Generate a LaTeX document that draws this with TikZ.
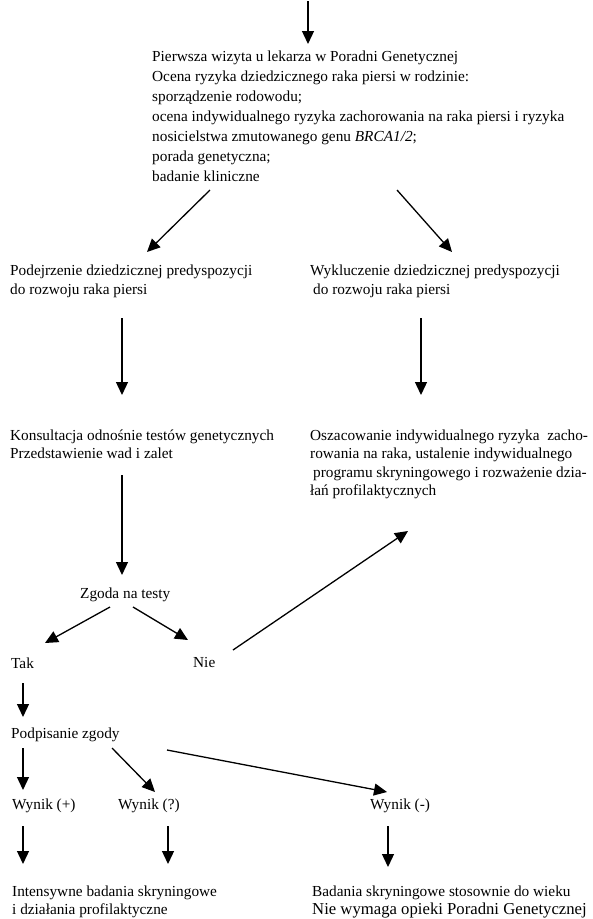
\documentclass[tikz,border=0pt]{standalone}
\usepackage{fontspec}
\setmainfont{Liberation Serif}
\usetikzlibrary{arrows.meta}

\begin{document}
\begin{tikzpicture}
  [x=1pt,y=-1pt,
   every node/.style={anchor=north west,inner sep=0pt,align=left,font=\fontsize{15.3}{18.5}\selectfont},
   arr/.style={line width=1.3pt,-{Triangle[length=13pt,width=12pt]}}]
  \useasboundingbox (0,0) rectangle (593,919);

  \coordinate (entry) at (308,1);
  \node[font=\fontsize{15.3}{20}\selectfont] (wizyta) at (152,50.5) {Pierwsza wizyta u lekarza w Poradni Genetycznej\\
    Ocena ryzyka dziedzicznego raka piersi w rodzinie:\\
    sporządzenie rodowodu;\\
    ocena indywidualnego ryzyka zachorowania na raka piersi i ryzyka\\
    nosicielstwa zmutowanego genu \textit{BRCA1/2};\\
    porada genetyczna;\\
    badanie kliniczne};
  \node (podejrz) at (10,265) {Podejrzenie dziedzicznej predyspozycji\\do rozwoju raka piersi};
  \node (wyklucz) at (310,265) {Wykluczenie dziedzicznej predyspozycji\\\hspace*{3pt}do rozwoju raka piersi};
  \node (konsult) at (10,429.5) {Konsultacja odnośnie testów genetycznych\\Przedstawienie wad i zalet};
  \node (oszac) at (310,429.5) {Oszacowanie indywidualnego ryzyka\ \ zacho-\\
    rowania na raka, ustalenie indywidualnego\\
    \hspace*{3pt}programu skryningowego i rozważenie dzia-\\
    łań profilaktycznych};
  \node (zgoda) at (80,587.5) {Zgoda na testy};
  \node (tak) at (11,657.5) {Tak};
  \node (nie) at (193,657.5) {Nie};
  \node (podpis) at (11,727.5) {Podpisanie zgody};
  \node (wplus) at (12,798.5) {Wynik (+)};
  \node (wpyt) at (118,798.5) {Wynik (?)};
  \node (wminus) at (370,798.5) {Wynik (-)};
  \node (intens) at (12,885.5) {Intensywne badania skryningowe\\i działania profilaktyczne};
  \node (wiek) at (312,885.5) {Badania skryningowe stosownie do wieku\\
    {\fontsize{16.7}{19}\selectfont Nie wymaga opieki Poradni Genetycznej}};

  % strzalki miedzy blokami
  \draw[arr] (entry) -- ([shift={(156,-6.5)}]wizyta.north west);
  \draw[arr] ([shift={(58,139.5)}]wizyta.north west) -- ([shift={(137,-13)}]podejrz.north west);
  \draw[arr] ([shift={(245,139.5)}]wizyta.north west) -- ([shift={(142,-13)}]wyklucz.north west);
  \draw[arr] ([shift={(112,53)}]podejrz.north west) -- ([shift={(112,-34.5)}]konsult.north west);
  \draw[arr] ([shift={(111,53)}]wyklucz.north west) -- ([shift={(111,-34.5)}]oszac.north west);
  \draw[arr] ([shift={(112,45.5)}]konsult.north west) -- ([shift={(42,-12.5)}]zgoda.north west);
  \draw[arr] ([shift={(30,19.5)}]zgoda.north west) -- ([shift={(34,-14.5)}]tak.north west);
  \draw[arr] ([shift={(53,19.5)}]zgoda.north west) -- ([shift={(-5,-17.5)}]nie.north west);
  \draw[arr] ([shift={(40,-7.5)}]nie.north west) -- ([shift={(98,101.5)}]oszac.north west);
  \draw[arr] ([shift={(12,25.5)}]tak.north west) -- ([shift={(12,-10.5)}]podpis.north west);
  \draw[arr] ([shift={(12,20.5)}]podpis.north west) -- ([shift={(11,-8.5)}]wplus.north west);
  \draw[arr] ([shift={(101,20.5)}]podpis.north west) -- ([shift={(37,-6.5)}]wpyt.north west);
  \draw[arr] ([shift={(156,22.5)}]podpis.north west) -- ([shift={(17,-6.5)}]wminus.north west);
  \draw[arr] ([shift={(11,27.5)}]wplus.north west) -- ([shift={(11,-21.5)}]intens.north west);
  \draw[arr] ([shift={(50,27.5)}]wpyt.north west) -- ([shift={(156,-21.5)}]intens.north west);
  \draw[arr] ([shift={(18,27.5)}]wminus.north west) -- ([shift={(76,-18.5)}]wiek.north west);

\end{tikzpicture}
\end{document}
